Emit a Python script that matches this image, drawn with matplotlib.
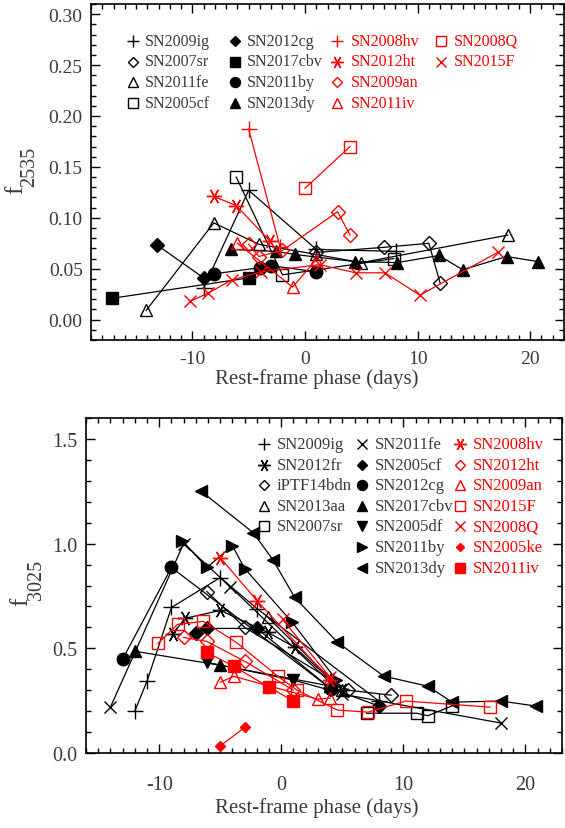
import numpy as np
import matplotlib.pyplot as plt
from matplotlib.ticker import MultipleLocator

plt.rcParams['font.family'] = ['Liberation Serif', 'DejaVu Serif']
plt.rcParams['axes.unicode_minus'] = False

TXT = '#3a3a3a'
RED = '#ff0000'

# ---------------- top panel: f2535 ----------------
t_sn2009ig_x = [-9.0, -5.0, 1.0, 8.1]
t_sn2009ig_y = [0.031, 0.127, 0.069, 0.067]
t_sn2007sr_x = [1.0, 7.0, 11.0, 12.0]
t_sn2007sr_y = [0.066, 0.071, 0.075, 0.036]
t_sn2011fe_x = [-14.1, -8.1, -4.1, 1.0, 5.0, 18.0]
t_sn2011fe_y = [0.009, 0.095, 0.074, 0.064, 0.056, 0.083]
t_sn2005cf_x = [-6.1, -2.0, 7.9]
t_sn2005cf_y = [0.140, 0.044, 0.060]
t_sn2012cg_x = [-13.1, -9.0]
t_sn2012cg_y = [0.073, 0.041]
t_sn2017cbv_x = [-17.1, -5.0]
t_sn2017cbv_y = [0.021, 0.041]
t_sn2011by_x = [-8.1, -4.0, -3.0, 1.0]
t_sn2011by_y = [0.045, 0.051, 0.053, 0.047]
t_sn2013dy_x = [-6.6, -2.6, -0.9, 4.4, 8.2, 11.9, 14.0, 17.9, 20.7]
t_sn2013dy_y = [0.069, 0.067, 0.064, 0.057, 0.056, 0.063, 0.049, 0.062, 0.057]
t_sn2008hv_x = [-5.0, -2.2]
t_sn2008hv_y = [0.187, 0.071]
t_sn2012ht_x = [-8.1, -6.1, -3.1]
t_sn2012ht_y = [0.121, 0.112, 0.077]
t_sn2009an_x = [-5.0, -4.1, -2.0, 2.9, 4.0]
t_sn2009an_y = [0.074, 0.062, 0.068, 0.106, 0.083]
t_sn2011iv_x = [-6.0, -1.1, 1.0]
t_sn2011iv_y = [0.075, 0.032, 0.059]
t_sn2008q_x = [0.0, 4.0]
t_sn2008q_y = [0.129, 0.170]
t_sn2015f_x = [-10.2, -8.6, -6.5, -3.9, 1.3, 4.5, 7.1, 10.2, 17.1]
t_sn2015f_y = [0.018, 0.026, 0.039, 0.047, 0.054, 0.046, 0.046, 0.024, 0.066]

# ---------------- bottom panel: f3025 ----------------
b_sn2009ig_x = [-12.0, -11.0, -9.0, -5.0, -2.0, 8.0]
b_sn2009ig_y = [0.200, 0.343, 0.695, 0.838, 0.690, 0.248]
b_sn2012fr_x = [-8.9, -7.9, -5.0, -1.1, 1.1, 5.0]
b_sn2012fr_y = [0.567, 0.643, 0.681, 0.576, 0.505, 0.300]
b_iptf14bdn_x = [-6.1, -3.0, 5.5, 9.0]
b_iptf14bdn_y = [0.771, 0.600, 0.300, 0.276]
b_sn2013aa_x = [-1.1, 5.0]
b_sn2013aa_y = [0.648, 0.300]
b_sn2007sr_x = [7.0, 11.1, 12.0, 14.0]
b_sn2007sr_y = [0.190, 0.190, 0.178, 0.225]
b_sn2011fe_x = [-14.0, -8.0, -4.2, 5.0, 18.0]
b_sn2011fe_y = [0.219, 1.000, 0.795, 0.281, 0.143]
b_sn2005cf_x = [-7.0, -6.1, -2.0, 4.0, 8.0]
b_sn2005cf_y = [0.572, 0.595, 0.595, 0.310, 0.224]
b_sn2012cg_x = [-13.0, -9.0, 4.1]
b_sn2012cg_y = [0.448, 0.886, 0.305]
b_sn2017cbv_x = [-12.0, -5.0, 4.0]
b_sn2017cbv_y = [0.486, 0.419, 0.320]
b_sn2005df_x = [-6.1, 1.0, 4.0]
b_sn2005df_y = [0.433, 0.348, 0.300]
b_sn2011by_x = [-8.1, -6.1, -4.0, -3.0, 0.9, 4.5]
b_sn2011by_y = [1.014, 0.886, 0.990, 0.881, 0.624, 0.350]
b_sn2013dy_x = [-6.6, -2.3, -0.7, 1.1, 4.6, 8.4, 12.0, 14.0, 18.0, 20.9]
b_sn2013dy_y = [1.252, 1.052, 0.924, 0.743, 0.529, 0.367, 0.319, 0.243, 0.248, 0.224]
b_sn2008hv_x = [-5.0, -2.0, 4.0]
b_sn2008hv_y = [0.933, 0.728, 0.350]
b_sn2012ht_x = [-8.0, -6.1, -3.0, 1.0]
b_sn2012ht_y = [0.552, 0.533, 0.438, 0.300]
b_sn2009an_x = [-5.0, -3.9, 3.0, 4.0]
b_sn2009an_y = [0.338, 0.366, 0.257, 0.262]
b_sn2015f_x = [-10.1, -8.5, -6.4, -3.7, -0.3, 1.3, 4.6, 7.1, 10.2, 17.1]
b_sn2015f_y = [0.524, 0.614, 0.629, 0.529, 0.367, 0.300, 0.205, 0.195, 0.248, 0.219]
b_sn2008q_x = [0.1, 4.0]
b_sn2008q_y = [0.638, 0.362]
b_sn2005ke_x = [-5.0, -2.95]
b_sn2005ke_y = [0.034, 0.124]
b_sn2011iv_x = [-6.1, -3.9, -1.0, 1.0]
b_sn2011iv_y = [0.481, 0.414, 0.314, 0.248]

# marker styles (IDL-like symbols)
STY = {
    'plus': dict(marker='+', ms=11, fill=False),
    'ast': dict(marker=(6, 2, 90), ms=11, fill=False),
    'dia': dict(marker='D', ms=7, fill=False),
    'tri': dict(marker='^', ms=9, fill=False),
    'sq': dict(marker='s', ms=9, fill=False),
    'x': dict(marker='x', ms=9, fill=False),
    'fdia': dict(marker='D', ms=7, fill=True),
    'fsq': dict(marker='s', ms=9, fill=True),
    'fcirc': dict(marker='o', ms=9, fill=True),
    'ftri': dict(marker='^', ms=9, fill=True),
    'fdown': dict(marker='v', ms=9, fill=True),
    'fright': dict(marker='>', ms=9, fill=True),
    'fleft': dict(marker='<', ms=9, fill=True),
    'sdia': dict(marker='D', ms=5, fill=True),
}

top_series = [
    ('SN2009ig', t_sn2009ig_x, t_sn2009ig_y, 'plus', 'k'),
    ('SN2007sr', t_sn2007sr_x, t_sn2007sr_y, 'dia', 'k'),
    ('SN2011fe', t_sn2011fe_x, t_sn2011fe_y, 'tri', 'k'),
    ('SN2005cf', t_sn2005cf_x, t_sn2005cf_y, 'sq', 'k'),
    ('SN2012cg', t_sn2012cg_x, t_sn2012cg_y, 'fdia', 'k'),
    ('SN2017cbv', t_sn2017cbv_x, t_sn2017cbv_y, 'fsq', 'k'),
    ('SN2011by', t_sn2011by_x, t_sn2011by_y, 'fcirc', 'k'),
    ('SN2013dy', t_sn2013dy_x, t_sn2013dy_y, 'ftri', 'k'),
    ('SN2008hv', t_sn2008hv_x, t_sn2008hv_y, 'plus', RED),
    ('SN2012ht', t_sn2012ht_x, t_sn2012ht_y, 'ast', RED),
    ('SN2009an', t_sn2009an_x, t_sn2009an_y, 'dia', RED),
    ('SN2011iv', t_sn2011iv_x, t_sn2011iv_y, 'tri', RED),
    ('SN2008Q', t_sn2008q_x, t_sn2008q_y, 'sq', RED),
    ('SN2015F', t_sn2015f_x, t_sn2015f_y, 'x', RED),
]

bottom_series = [
    ('SN2009ig', b_sn2009ig_x, b_sn2009ig_y, 'plus', 'k'),
    ('SN2012fr', b_sn2012fr_x, b_sn2012fr_y, 'ast', 'k'),
    ('iPTF14bdn', b_iptf14bdn_x, b_iptf14bdn_y, 'dia', 'k'),
    ('SN2013aa', b_sn2013aa_x, b_sn2013aa_y, 'tri', 'k'),
    ('SN2007sr', b_sn2007sr_x, b_sn2007sr_y, 'sq', 'k'),
    ('SN2011fe', b_sn2011fe_x, b_sn2011fe_y, 'x', 'k'),
    ('SN2005cf', b_sn2005cf_x, b_sn2005cf_y, 'fdia', 'k'),
    ('SN2012cg', b_sn2012cg_x, b_sn2012cg_y, 'fcirc', 'k'),
    ('SN2017cbv', b_sn2017cbv_x, b_sn2017cbv_y, 'ftri', 'k'),
    ('SN2005df', b_sn2005df_x, b_sn2005df_y, 'fdown', 'k'),
    ('SN2011by', b_sn2011by_x, b_sn2011by_y, 'fright', 'k'),
    ('SN2013dy', b_sn2013dy_x, b_sn2013dy_y, 'fleft', 'k'),
    ('SN2008hv', b_sn2008hv_x, b_sn2008hv_y, 'ast', RED),
    ('SN2012ht', b_sn2012ht_x, b_sn2012ht_y, 'dia', RED),
    ('SN2009an', b_sn2009an_x, b_sn2009an_y, 'tri', RED),
    ('SN2015F', b_sn2015f_x, b_sn2015f_y, 'sq', RED),
    ('SN2008Q', b_sn2008q_x, b_sn2008q_y, 'x', RED),
    ('SN2005ke', b_sn2005ke_x, b_sn2005ke_y, 'sdia', RED),
    ('SN2011iv', b_sn2011iv_x, b_sn2011iv_y, 'fsq', RED),
]


def marker_kw(style, color, scale=1.0):
    s = STY[style]
    return dict(marker=s['marker'], ms=s['ms'] * scale, mec=color,
                mfc=color if s['fill'] else 'none', mew=1.0)


def draw_series(ax, series):
    for name, x, y, style, color in series:
        ax.plot(x, y, color=color, lw=0.9, **marker_kw(style, color))


def draw_key(fig, series, cols_px, rows_px, counts, fs):
    # legend laid out column by column, positions in figure pixels
    W, H = fig.get_size_inches() * fig.dpi
    k = 0
    for ci, n in enumerate(counts):
        for ri in range(n):
            name, x, y, style, color = series[k]
            k += 1
            mx, tx = cols_px[ci]
            yy = 1 - rows_px[ri] / H
            fig.lines.append(plt.Line2D([mx / W], [yy], transform=fig.transFigure,
                                        ls='none', **marker_kw(style, color, 0.8)))
            fig.text(tx / W, yy, name, color=TXT if color == 'k' else RED,
                     fontsize=fs, va='center', ha='left')


def ylabel_px(fig, sub, f_xy, sub_xy):
    # "f" with a large subscript, rotated, placed in figure pixels
    W, H = fig.get_size_inches() * fig.dpi
    fig.text(f_xy[0] / W, 1 - f_xy[1] / H, 'f', rotation=90, fontsize=18,
             color=TXT, ha='center', va='center')
    fig.text(sub_xy[0] / W, 1 - sub_xy[1] / H, sub, rotation=90, fontsize=14.5,
             color=TXT, ha='center', va='center')


def style_axes(ax, xminor, yminor, ymajor, pad_x, fs):
    ax.xaxis.set_major_locator(MultipleLocator(10))
    ax.xaxis.set_minor_locator(MultipleLocator(xminor))
    ax.yaxis.set_major_locator(MultipleLocator(ymajor))
    ax.yaxis.set_minor_locator(MultipleLocator(yminor))
    ax.tick_params(which='both', direction='in', top=True, right=True,
                   colors='k', labelcolor=TXT, width=1.0, labelsize=fs)
    ax.tick_params(which='major', length=6.5)
    ax.tick_params(which='minor', length=3.5)
    ax.tick_params(axis='x', pad=pad_x)
    ax.tick_params(axis='y', pad=6)
    for sp in ax.spines.values():
        sp.set_linewidth(1.2)


fig = plt.figure(figsize=(5.65, 8.29), dpi=100)

ax1 = fig.add_axes([91 / 565, 1 - 341 / 829, 473 / 565, 336 / 829])
draw_series(ax1, top_series)
ax1.set_xlim(-19, 23)
ax1.set_ylim(-0.02, 0.31)
style_axes(ax1, 1, 0.01, 0.05, 7, 14)
ax1.yaxis.set_major_formatter(plt.FormatStrFormatter('%.2f'))
ax1.set_xlabel('Rest-frame phase (days)', fontsize=15, color=TXT)
ax1.xaxis.set_label_coords(0.478, -0.085)
ylabel_px(fig, '2535', (16, 190), (30, 167))

ax2 = fig.add_axes([86 / 565, 1 - 754 / 829, 476 / 565, 335 / 829])
draw_series(ax2, bottom_series)
ax2.set_xlim(-16, 23)
ax2.set_ylim(0.0, 1.6)
style_axes(ax2, 1, 0.1, 0.5, 16, 14.5)
ax2.yaxis.set_major_formatter(plt.FormatStrFormatter('%.1f'))
ax2.set_xlabel('Rest-frame phase (days)', fontsize=15, color=TXT)
ax2.xaxis.set_label_coords(0.485, -0.131)
ylabel_px(fig, '3025', (21.5, 602), (36, 580))

draw_key(fig, top_series,
         cols_px=[(133, 145), (235, 247), (337, 351), (441, 454)],
         rows_px=[42, 62.5, 83, 103.5], counts=[4, 4, 4, 2], fs=11.5)
draw_key(fig, bottom_series,
         cols_px=[(264, 277), (362, 375), (460, 473)],
         rows_px=[445, 465.5, 486, 507, 527, 548, 569], counts=[5, 7, 7], fs=12)

fig.savefig('out.png', dpi=100)
